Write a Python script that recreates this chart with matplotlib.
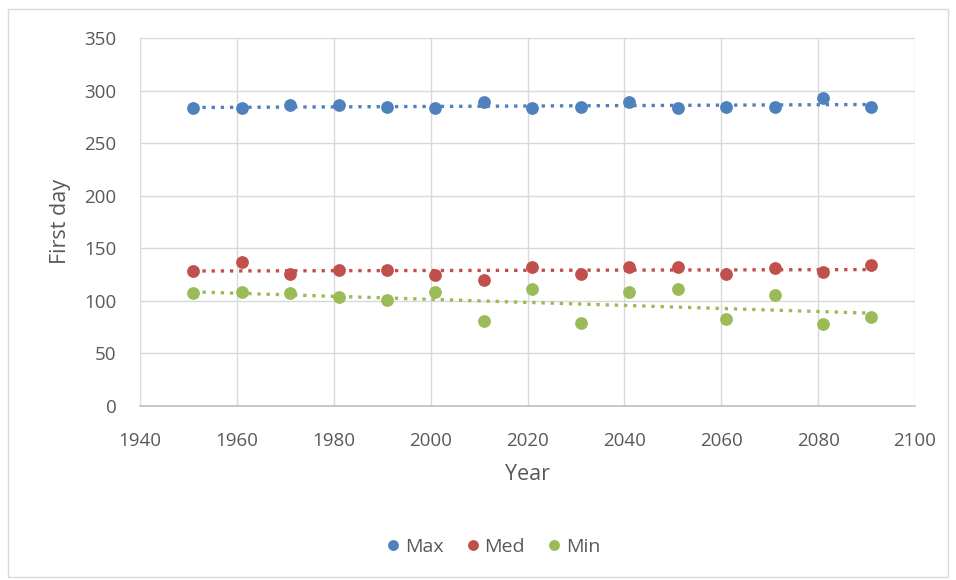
import numpy as np
import matplotlib
matplotlib.use("Agg")
import matplotlib.pyplot as plt
from matplotlib.patches import Rectangle

years = [1951, 1961, 1971, 1981, 1991, 2001, 2011, 2021, 2031, 2041, 2051, 2061, 2071, 2081, 2091]
max_day = [283, 283, 286, 286, 284.5, 283, 289, 283, 284.5, 289, 283, 284.5, 284.5, 292.5, 284.5]
med_day = [128.6, 137, 126, 129, 129, 124.5, 120, 132.4, 126, 132.4, 132.4, 126, 131, 127.7, 134]
min_day = [107, 108.6, 107, 103.3, 100.8, 108.6, 81, 111, 79, 108.6, 111, 82.4, 105.5, 78, 84.3]
series_names = ["Max", "Med", "Min"]
colors = ["#4F81BD", "#C0504D", "#9BBB59"]
x_ticks = [1940, 1960, 1980, 2000, 2020, 2040, 2060, 2080, 2100]
y_ticks = [0, 50, 100, 150, 200, 250, 300, 350]

plt.rcParams['font.family'] = ['Open Sans', 'DejaVu Sans']

W, H = 956, 580
fig = plt.figure(figsize=(W / 100, H / 100), dpi=100)
fig.patches.append(Rectangle((8 / W, 1 - 577 / H), 940 / W, 568 / H, transform=fig.transFigure,
                             fill=False, edgecolor="#D9D9D9", linewidth=1.0))

ax = fig.add_axes([140 / W, 1 - 406 / H, 775 / W, 368 / H])
x = np.array(years, dtype=float)
for name, vals, c in zip(series_names, [max_day, med_day, min_day], colors):
    v = np.array(vals, dtype=float)
    k, b = np.polyfit(x, v, 1)
    xs = np.array([x.min(), x.max()])
    ax.plot(xs, k * xs + b, color=c, linewidth=2.4, linestyle=(0, (1.0, 1.75)),
            dash_capstyle="butt", zorder=2)
    ax.plot(x, v, linestyle="none", marker="o", markersize=9.2, color=c,
            markeredgewidth=0, label=name, zorder=3)

ax.set_xlim(1940, 2100)
ax.set_ylim(0, 350)
ax.set_xticks(x_ticks)
ax.set_yticks(y_ticks)
ax.grid(True, color="#D9D9D9", linewidth=1.0)
ax.set_axisbelow(True)
for s in ["top", "right", "left"]:
    ax.spines[s].set_visible(False)
ax.spines["bottom"].set_color("#BFBFBF")
ax.spines["bottom"].set_linewidth(1.2)
ax.tick_params(axis="both", length=0, labelsize=13.5, labelcolor="#595959")
ax.tick_params(axis="x", pad=19)
ax.tick_params(axis="y", pad=17)

ax.set_xlabel("Year", fontsize=15.5, color="#595959")
ax.set_ylabel("First day", fontsize=15.5, color="#595959")
ax.xaxis.set_label_coords(0.5, (406 - 464) / 368)
ax.yaxis.set_label_coords((71 - 140) / 775, 0.5)

leg = fig.legend(loc="center", bbox_to_anchor=(492 / W, 1 - 547 / H), ncol=3, frameon=False,
                 fontsize=14, handletextpad=0.1, columnspacing=1.0, markerscale=0.85,
                 handlelength=1.0)
for t in leg.get_texts():
    t.set_color("#595959")

fig.savefig("out.png", dpi=100, facecolor="white")
